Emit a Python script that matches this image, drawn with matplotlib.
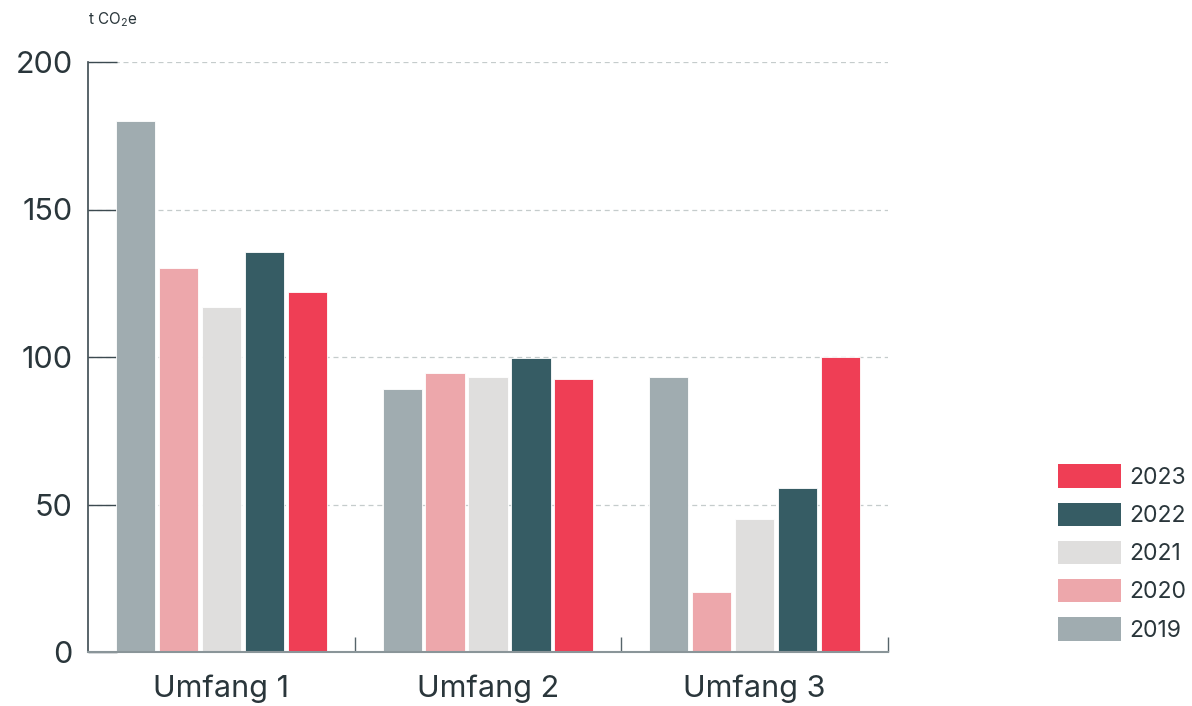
import matplotlib
matplotlib.use("Agg")
import matplotlib.pyplot as plt
import numpy as np
from matplotlib.patches import Patch

categories = ["Umfang 1", "Umfang 2", "Umfang 3"]
years = ["2019", "2020", "2021", "2022", "2023"]
values = {
    "2019": [180, 89.2, 93.2],
    "2020": [130.2, 94.6, 20.3],
    "2021": [117, 93.2, 45.1],
    "2022": [135.6, 99.7, 55.6],
    "2023": [122, 92.5, 100],
}
colors = {
    "2019": "#a0acb0",
    "2020": "#eda7ab",
    "2021": "#dfdedd",
    "2022": "#365c64",
    "2023": "#ef3e55",
}
yticks = [0, 50, 100, 150, 200]
unit_label = "t CO$_2$e"

plt.rcParams['font.family'] = ['Inter', 'DejaVu Sans']
plt.rcParams['mathtext.fontset'] = 'custom'
plt.rcParams['mathtext.rm'] = 'Inter'
plt.rcParams['mathtext.it'] = 'Inter'
text_color = "#2a363b"

fig = plt.figure(figsize=(11.92, 7.06), dpi=100)
ax = fig.add_axes([88/1192, 54/706, 800/1192, 590/706])

x = np.arange(len(categories))
width = 0.147
step = 0.161
for i, y in enumerate(years):
    ax.bar(x + (i - 2) * step, values[y], width=width, color=colors[y],
           edgecolor="white", linewidth=0.6, zorder=2)

ax.set_xlim(-0.5, 2.5)
ax.set_ylim(0, 200)
ax.set_yticks(yticks)
ax.set_yticklabels([str(t) for t in yticks], fontsize=22, color=text_color)
ax.set_xticks(x)
ax.set_xticklabels(categories, fontsize=22, color=text_color)
ax.set_xticks([0.5, 1.5, 2.5], minor=True)
ax.tick_params(axis='x', which='major', length=0, pad=16)
ax.tick_params(axis='x', which='minor', length=11, direction='in', color="#56646a", width=1)
ax.tick_params(axis='y', which='major', length=21, direction='in', color="#3c4a50", width=1, pad=11)

ax.yaxis.grid(True, linestyle=(0, (4, 3)), color="#c5cccc", linewidth=0.9, zorder=0)
ax.set_axisbelow(True)
for s in ["top", "right"]:
    ax.spines[s].set_visible(False)
ax.spines["left"].set_color("#3c4a50")
ax.spines["left"].set_linewidth(1.2)
ax.spines["bottom"].set_color("#8a9599")
ax.spines["bottom"].set_linewidth(1.5)

fig.text(88/1192, 1 - 20/706, unit_label, fontsize=11, color=text_color, va='center', ha='left')

handles = [Patch(facecolor=colors[y], edgecolor='none', label=y) for y in reversed(years)]
fig.legend(handles=handles, loc='center left', bbox_to_anchor=(1058/1192, 1 - 553/706),
           frameon=False, fontsize=16.5, handlelength=2.75, handleheight=1.2,
           labelspacing=0.6, handletextpad=0.35, borderpad=0, borderaxespad=0,
           labelcolor=text_color)

fig.savefig("out.png", dpi=100)
